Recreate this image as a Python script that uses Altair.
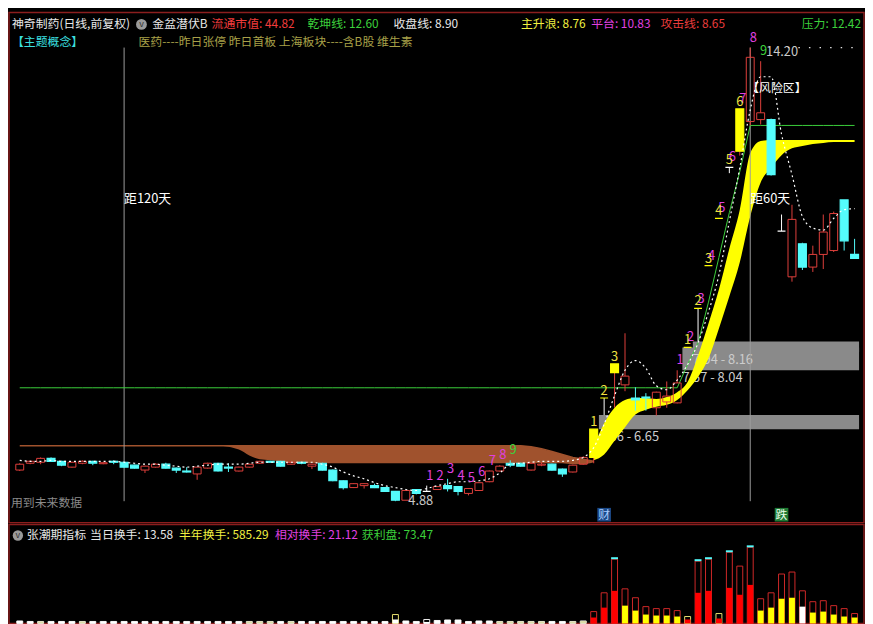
import altair as alt
import pandas as pd

FONT = "Noto Sans CJK SC"

# ---------------- candle data (index 0..80) ----------------
opens = [5.52, 5.66, 5.68, 5.76, 5.70, 5.58, 5.66, 5.70, 5.65, 5.70,
         5.68, 5.62, 5.52, 5.58, 5.64, 5.56, 5.50, 5.44, 5.56, 5.66,
         5.58, 5.50, 5.58, 5.66, 5.70, 5.70, 5.64, 5.68, 5.60, 5.66,
         5.52, 5.30, 5.16, 5.20, 5.20, 5.16, 5.08, 4.90, 5.12, 5.08,
         5.12, 5.20, 5.18, 5.04, 5.10, 5.28, 5.50, 5.66, 5.66, 5.52,
         5.62, 5.64, 5.54, 5.48, 5.64, 5.78, 7.00, 7.52, 7.27, 7.00,
         7.02, 6.80, 6.92, 6.90, 8.04, 8.84, 9.72, 10.69, 11.74, 12.07,
         12.68, 12.72, 12.72, 10.43, 9.49, 10.17, 9.69, 9.95, 10.03, 11.07,
         9.95]
highs = [5.66, 5.72, 5.78, 5.78, 5.71, 5.69, 5.72, 5.71, 5.68, 5.72,
         5.69, 5.63, 5.61, 5.66, 5.67, 5.57, 5.58, 5.59, 5.67, 5.67,
         5.66, 5.59, 5.65, 5.71, 5.71, 5.71, 5.69, 5.69, 5.65, 5.67,
         5.53, 5.31, 5.25, 5.25, 5.24, 5.17, 5.09, 5.11, 5.13, 5.20,
         5.19, 5.34, 5.19, 5.15, 5.27, 5.51, 5.62, 5.72, 5.67, 5.67,
         5.68, 5.65, 5.55, 5.63, 5.80, 6.36, 7.00, 7.70, 8.33, 7.22,
         7.10, 7.13, 7.34, 7.57, 8.04, 8.84, 9.72, 10.69, 11.74, 12.94,
         14.20, 13.92, 12.74, 10.77, 10.97, 10.19, 10.13, 10.77, 10.83, 11.07,
         10.27]
lows = [5.50, 5.64, 5.64, 5.69, 5.60, 5.57, 5.64, 5.62, 5.64, 5.64,
        5.57, 5.55, 5.46, 5.57, 5.55, 5.46, 5.47, 5.32, 5.55, 5.49,
        5.48, 5.49, 5.57, 5.65, 5.67, 5.59, 5.63, 5.64, 5.54, 5.51,
        5.29, 5.12, 5.15, 5.14, 5.15, 5.07, 4.88, 4.90, 5.02, 5.08,
        5.11, 5.08, 5.00, 5.00, 5.09, 5.27, 5.49, 5.58, 5.59, 5.51,
        5.60, 5.51, 5.38, 5.47, 5.63, 5.66, 6.65, 6.80, 7.14, 6.74,
        6.74, 6.64, 6.80, 6.89, 8.04, 8.16, 9.72, 10.69, 11.62, 11.98,
        12.60, 12.62, 11.57, 10.43, 9.39, 9.63, 9.59, 9.65, 10.00, 10.03,
        9.87]
closes = [5.64, 5.70, 5.76, 5.70, 5.62, 5.68, 5.70, 5.66, 5.67, 5.68,
          5.58, 5.56, 5.60, 5.64, 5.56, 5.52, 5.48, 5.58, 5.66, 5.50,
          5.56, 5.58, 5.64, 5.70, 5.68, 5.60, 5.68, 5.66, 5.64, 5.52,
          5.30, 5.16, 5.24, 5.24, 5.16, 5.08, 4.90, 5.10, 5.04, 5.08,
          5.18, 5.14, 5.08, 5.14, 5.26, 5.50, 5.60, 5.62, 5.60, 5.66,
          5.64, 5.52, 5.44, 5.62, 5.78, 6.36, 7.00, 7.70, 7.45, 6.96,
          7.00, 7.12, 7.04, 7.31, 8.04, 8.84, 9.72, 10.69, 11.74, 12.94,
          14.00, 12.86, 11.59, 10.43, 10.67, 9.69, 9.95, 10.41, 10.79, 10.23,
          9.87]
kinds = ("up up up dn dn up up dn up dn "
         "dn dn up up dn dn dn up up dn "
         "dn up up up dn dn up dn up dn "
         "dn dn up up dn dn dn up dn doji "
         "up dn dn up up up up dn dn up "
         "up dn dn up up lim limT lim up dn "
         "dn up up up lim limT lim lim doji lim "
         "up up dn doji up dn up up up dn "
         "dn").split()

# white dashed smooth line
ma_white = [5.72, 5.70, 5.70, 5.72, 5.70, 5.70, 5.70, 5.70, 5.70, 5.70,
            5.68, 5.66, 5.64, 5.64, 5.62, 5.60, 5.58, 5.60, 5.62, 5.64,
            5.64, 5.64, 5.66, 5.68, 5.68, 5.68, 5.68, 5.68, 5.68, 5.64,
            5.58, 5.48, 5.40, 5.34, 5.26, 5.20, 5.16, 5.12, 5.10, 5.14,
            5.20, 5.24, 5.28, 5.28, 5.30, 5.34, 5.46, 5.64, 5.66, 5.68,
            5.70, 5.70, 5.70, 5.72, 5.78, 5.98, 6.46, 7.05, 7.57, 7.77,
            7.61, 7.25, 7.17, 7.37, 7.69, 8.13, 8.77, 9.53, 10.63, 11.73,
            12.92, 13.60, 13.60, 12.42, 11.59, 10.73, 10.49, 10.45, 10.69, 10.87,
            10.89]
# green 乾坤线
qiankun = [7.21, 7.21, 7.21, 7.21, 7.21, 7.21, 7.21, 7.21, 7.21, 7.21,
           7.21, 7.21, 7.21, 7.21, 7.21, 7.21, 7.21, 7.21, 7.21, 7.21,
           7.21, 7.21, 7.21, 7.21, 7.21, 7.21, 7.21, 7.21, 7.21, 7.21,
           7.21, 7.21, 7.21, 7.21, 7.21, 7.21, 7.21, 7.21, 7.21, 7.21,
           7.21, 7.21, 7.21, 7.21, 7.21, 7.21, 7.21, 7.21, 7.21, 7.21,
           7.21, 7.21, 7.21, 7.21, 7.21, 7.21, 7.21, 7.21, 7.21, 7.21,
           7.21, 7.21, 7.21, 7.21, 7.69, 8.13, 8.97, 9.89, 10.81, 11.65,
           12.60, 12.60, 12.60, 12.60, 12.60, 12.60, 12.60, 12.60, 12.60, 12.60,
           12.60]

# yellow ribbon (主升浪), index 55..80
rib_idx = list(range(55, 81))
rib_hi = [6.00, 6.48, 6.80, 6.96, 7.00, 7.00, 6.98, 7.02, 7.12, 7.33,
          7.87, 8.53, 9.23, 10.07, 10.87, 12.03, 12.28, 12.30, 12.30, 12.30,
          12.30, 12.30, 12.30, 12.30, 12.30, 12.30]
rib_lo = [5.72, 5.84, 6.12, 6.40, 6.66, 6.76, 6.82, 6.86, 6.96, 7.16,
          7.43, 7.81, 8.43, 9.09, 9.79, 10.73, 11.43, 11.73, 11.99, 12.13,
          12.18, 12.22, 12.24, 12.26, 12.26, 12.26]

# brown area (潜伏区), index 0..55
brown_idx = list(range(0, 56))
brown_hi = [6.02, 6.02, 6.02, 6.02, 6.02, 6.02, 6.02, 6.02, 6.02, 6.02,
            6.02, 6.02, 6.02, 6.02, 6.02, 6.02, 6.02, 6.02, 6.02, 6.02,
            6.02, 6.02, 6.02, 6.02, 6.02, 6.02, 6.02, 6.02, 6.02, 6.02,
            6.02, 6.02, 6.02, 6.02, 6.02, 6.02, 6.02, 6.02, 6.02, 6.02,
            6.02, 6.02, 6.02, 6.02, 6.02, 6.02, 6.02, 6.02, 6.02, 6.00,
            5.96, 5.90, 5.84, 5.78, 5.74, 5.70]
brown_lo = [6.02, 6.02, 6.02, 6.02, 6.02, 6.02, 6.02, 6.02, 6.02, 6.02,
            6.02, 6.02, 6.02, 6.02, 6.02, 6.02, 6.02, 6.02, 6.02, 6.02,
            6.00, 5.94, 5.82, 5.74, 5.72, 5.70, 5.66, 5.66, 5.66, 5.66,
            5.66, 5.66, 5.66, 5.66, 5.66, 5.66, 5.66, 5.66, 5.66, 5.66,
            5.66, 5.66, 5.66, 5.66, 5.66, 5.66, 5.66, 5.66, 5.66, 5.66,
            5.66, 5.66, 5.66, 5.64, 5.64, 5.68]

# gap bands
band_lo = [6.36, 7.57, 7.94]
band_hi = [6.65, 8.04, 8.16]
band_from = [55.5, 63.5, 64.5]

# count labels
td_idx = [39, 40, 41, 42, 43, 44, 45, 46, 47, 63, 64, 65, 66, 67, 68, 69, 70, 71]
td_txt = ["1", "2", "3", "4", "5", "6", "7", "8", "9", "1", "2", "3", "4", "5", "6", "7", "8", "9"]
lb_idx = [55, 56, 57, 64, 65, 66, 67, 68, 69]
lb_txt = ["1", "2", "3", "1", "2", "3", "4", "5", "6"]

vline_idx = [10, 70]
vline_txt = ["距120天", "距60天"]
signal_idx = [56, 73]
signal_txt = ["财", "跌"]

# turnover panel
vol_total = [2.5, 2, 2, 2, 2, 2, 2, 2, 2, 2,
             2, 2, 2, 2, 2, 2, 2, 2, 2, 2,
             2, 2, 2, 2, 2, 2, 2, 2, 2, 2,
             2, 2, 2, 2, 2, 2, 9, 2.5, 2, 4,
             3, 3.5, 3.5, 2, 2.5, 2.5, 2, 2, 2, 2,
             2, 2, 2, 2, 2.5, 12, 31, 65, 35, 26,
             17, 15, 15, 13, 7, 63, 65, 10, 72, 58,
             77, 25, 31, 50, 52, 33, 22, 23, 18, 15,
             10]
vol_fill = [2.5, 2, 2, 2, 2, 2, 2, 2, 2, 2,
            2, 2, 2, 2, 2, 2, 2, 2, 2, 2,
            2, 2, 2, 2, 2, 2, 2, 2, 2, 2,
            2, 2, 2, 2, 2, 2, 4, 2.5, 2, 1.5,
            3, 3.5, 3.5, 2, 2.5, 2.5, 2, 2, 2, 2,
            2, 2, 2, 2, 2.5, 6, 16, 33, 18, 13,
            9, 8, 8, 7, 4, 31, 33, 5, 36, 29,
            39, 13, 16, 25, 26, 17, 11, 12, 9, 7,
            6]
vol_ocol = ("w w w w w w w w w w "
            "w w w w w w w w w w "
            "w w w w w w w w w w "
            "w w w w w w y w w w "
            "w w w w w w w w w w "
            "w w w w w r r r r r "
            "r r r r y r r y r r "
            "r r r r r r r r r r "
            "r").split()
vol_fcol = ("w w p w w w p w w w "
            "w w w w w w w w w w "
            "w w p p p w p w w w "
            "w w w w w w w w w w "
            "w w w w w w p p p p "
            "p w w p p r r r y y "
            "y y y y r r r r r r "
            "r y y y y w y y y y "
            "y").split()
vol_cap = [57, 65, 66, 68, 70]

hdr_names = ["流通市值", "乾坤线", "收盘线", "主升浪", "平台", "攻击线", "压力"]
hdr_vals = [44.82, 12.60, 8.90, 8.76, 10.83, 8.65, 12.42]
sub_names = ["当日换手", "半年换手", "相对换手", "获利盘"]
sub_vals = [13.58, 585.29, 21.12, 73.47]

# ---------------- styling ----------------
W, HM, HV = 865, 516, 100
UP = "#e0403c"
CY = "#54fcfc"
YE = "#ffff00"
WH = "#ffffff"
MAG = "#e040e0"
GRN = "#3cd03c"
WICK = {"up": UP, "dn": CY, "lim": UP, "limT": WH, "doji": WH}
BODY = {"dn": CY, "lim": YE, "limT": YE, "doji": WH}
OCOL = {"r": "#d02828", "y": "#e8e070", "w": "#f0f0f0"}
FCOL = {"r": "#ff0000", "y": "#ffff00", "w": "#ffffff", "p": "#dcdca8"}

xs = alt.Scale(domain=[-0.557, 80.43], nice=False, zero=False)
ys = alt.Scale(domain=[4.44, 14.919], nice=False, zero=False)
vs = alt.Scale(domain=[0, 100], nice=False, zero=False)
X = alt.X("i:Q", scale=xs, axis=None)

def Y(f):
    return alt.Y(f, scale=ys, axis=None)

cdf = pd.DataFrame({"i": list(range(81)), "o": opens, "h": highs, "l": lows, "c": closes,
                    "kind": kinds, "ma": ma_white, "qk": qiankun})
cdf["top"] = cdf[["o", "c"]].max(axis=1)
cdf["bot"] = cdf[["o", "c"]].min(axis=1)
cdf["wc"] = cdf["kind"].map(WICK)
cdf["bc"] = cdf["kind"].map(BODY).fillna(UP)
base = alt.Chart(cdf)

def txt(text, x, y, color, size=12, align="left", baseline="middle"):
    return alt.Chart(pd.DataFrame({"t": [text]})).mark_text(
        align=align, baseline=baseline, color=color, fontSize=size, font=FONT
    ).encode(text="t:N", x=alt.value(x), y=alt.value(y))

layers = []
# gap bands
bdf = pd.DataFrame({"x": band_from, "lo": band_lo, "hi": band_hi,
                    "lab": [f"{a:.2f} - {b:.2f}" for a, b in zip(band_lo, band_hi)]})
bdf["x2"] = 80.43
layers.append(alt.Chart(bdf).mark_rect(color="#8a8a8a").encode(
    x=alt.X("x:Q", scale=xs, axis=None), x2="x2:Q", y=Y("lo:Q"), y2="hi:Q"))
layers.append(alt.Chart(bdf).mark_text(align="left", baseline="top", dy=2, color="#cccccc",
                                       fontSize=13, font=FONT).encode(
    x=alt.X("x:Q", scale=xs, axis=None), y=Y("lo:Q"), text="lab:N"))
# brown area
brdf = pd.DataFrame({"i": brown_idx, "hi": brown_hi, "lo": brown_lo})
layers.append(alt.Chart(brdf).mark_area(color="#a0522d", interpolate="monotone").encode(
    x=X, y=Y("hi:Q"), y2="lo:Q"))
layers.append(alt.Chart(brdf).mark_line(color="#a0522d", strokeWidth=1.5).encode(x=X, y=Y("hi:Q")))
# yellow ribbon
rdf = pd.DataFrame({"i": rib_idx, "hi": rib_hi, "lo": rib_lo})
layers.append(alt.Chart(rdf).mark_area(color=YE, interpolate="monotone").encode(
    x=X, y=Y("hi:Q"), y2="lo:Q"))
# vertical marker lines (global low to global high)
vdf_l = pd.DataFrame({"i": vline_idx, "t": vline_txt})
vdf_l["lo"] = min(lows)
vdf_l["hi"] = max(highs)
layers.append(alt.Chart(vdf_l).mark_rule(color="#9c9c9c", strokeWidth=1).encode(
    x=X, y=Y("lo:Q"), y2="hi:Q"))
layers.append(alt.Chart(vdf_l).mark_text(align="left", baseline="middle", color=WH,
                                         fontSize=13, font=FONT).encode(
    x=X, y=alt.value(189), text="t:N"))
# green line
layers.append(base.mark_line(color=GRN, strokeWidth=1).encode(x=X, y=Y("qk:Q")))
# candles
layers.append(base.mark_rule(strokeWidth=1).encode(
    x=X, y=Y("h:Q"), y2="top:Q", color=alt.Color("wc:N", scale=None)))
layers.append(base.mark_rule(strokeWidth=1).encode(
    x=X, y=Y("bot:Q"), y2="l:Q", color=alt.Color("wc:N", scale=None)))
layers.append(base.transform_filter(alt.datum.kind == "up").mark_bar(
    filled=False, size=8, strokeWidth=1, color=UP).encode(x=X, y=Y("top:Q"), y2="bot:Q"))
layers.append(base.transform_filter(alt.datum.kind != "up").mark_bar(
    size=8, strokeWidth=1.2).encode(x=X, y=Y("top:Q"), y2="bot:Q",
                                    color=alt.Color("bc:N", scale=None),
                                    stroke=alt.Stroke("bc:N", scale=None)))
# white dashed line
layers.append(base.mark_line(color=WH, strokeDash=[2, 3], strokeWidth=1.2,
                             interpolate="monotone").encode(x=X, y=Y("ma:Q")))
# count labels
tdf = pd.DataFrame({"i": td_idx, "t": td_txt})
tdf["v"] = [highs[k] for k in td_idx]
tdf["col"] = [GRN if t == "9" else MAG for t in td_txt]
layers.append(alt.Chart(tdf).mark_text(baseline="bottom", dx=3, dy=-3, fontSize=13, font=FONT).encode(
    x=X, y=Y("v:Q"), text="t:N", color=alt.Color("col:N", scale=None)))
ldf = pd.DataFrame({"i": lb_idx, "t": lb_txt})
ldf["v"] = [highs[k] for k in lb_idx]
layers.append(alt.Chart(ldf).mark_text(baseline="bottom", dy=0, fontSize=13, font=FONT,
                                       color="#f0e040").encode(x=X, y=Y("v:Q"), text="t:N"))
# high / low labels
hi_i = highs.index(max(highs))
lo_i = lows.index(min(lows))
hl = pd.DataFrame({"i": [hi_i], "v": [max(highs)], "t": [f"{max(highs):.2f}"]})
ll = pd.DataFrame({"i": [lo_i], "v": [min(lows)], "t": [f"{min(lows):.2f}"]})
layers.append(alt.Chart(hl).mark_text(align="left", baseline="middle", dx=16, dy=5,
                                      color="#c8c8c8", fontSize=13, font=FONT).encode(
    x=X, y=Y("v:Q"), text="t:N"))
layers.append(alt.Chart(ll).mark_text(align="left", baseline="middle", dx=13, dy=0,
                                      color="#c8c8c8", fontSize=13, font=FONT).encode(
    x=X, y=Y("v:Q"), text="t:N"))
hl2 = hl.copy()
hl2["i"] = hi_i + 3.6
hl2["x2"] = 80.43
layers.append(alt.Chart(hl2).mark_rule(color="#dddddd", strokeDash=[1.5, 9.2], strokeWidth=1.2).encode(
    x=X, x2="x2:Q", y=Y("v:Q")))
# risk zone label
layers.append(alt.Chart(pd.DataFrame({"i": [hi_i], "t": ["【风险区】"]})).mark_text(
    align="left", baseline="middle", color=WH, fontSize=12, font=FONT, dx=-3).encode(
    x=X, y=alt.value(76), text="t:N"))
# signal markers
sdf = pd.DataFrame({"i": signal_idx, "t": signal_txt, "bg": ["#1c4a88", "#1e7a34"],
                    "fg": ["#a8ccff", "#eaffea"]})
layers.append(alt.Chart(sdf).mark_square(size=190, opacity=1).encode(
    x=X, y=alt.value(508), color=alt.Color("bg:N", scale=None)))
layers.append(alt.Chart(sdf).mark_text(fontSize=12, font=FONT, baseline="middle").encode(
    x=X, y=alt.value(508), text="t:N", color=alt.Color("fg:N", scale=None)))
# header texts
layers.append(txt("神奇制药(日线,前复权)", 3, 12, "#e8e8e8"))
layers.append(alt.Chart(pd.DataFrame({"a": [1]})).mark_point(
    shape="circle", filled=True, size=120, color="#9a9a9a", opacity=1).encode(
    x=alt.value(134), y=alt.value(12)))
layers.append(txt("v", 134, 12, "#303030", size=9, align="center"))
layers.append(txt("金盆潜伏B", 145, 12, "#e8e8e8"))
hdr_x = [205, 302, 389, 518, 589, 659, 862]
hdr_c = ["#f03c3c", GRN, "#e8e8e8", "#f0f040", MAG, "#e83c3c", GRN]
for nm, vv, hx, hc in zip(hdr_names, hdr_vals, hdr_x, hdr_c):
    layers.append(txt(f"{nm}: {vv:.2f}", hx, 12, hc, align="right" if hx > 850 else "left"))
layers.append(txt("【主题概念】", 3, 29.5, "#3ce0e0"))
layers.append(txt("医药----昨日张停 昨日首板 上海板块----含B股 维生素", 131, 29.5, "#a8a048"))
layers.append(txt("用到未来数据", 2, 496, "#8a8a8a", size=12))

main = alt.layer(*layers).properties(width=W, height=HM)

# ---------------- turnover panel ----------------
vdf = pd.DataFrame({"i": list(range(81)), "tot": vol_total, "fil": vol_fill,
                    "oc": [OCOL[k] for k in vol_ocol], "fc": [FCOL[k] for k in vol_fcol]})
vdf["z"] = 0
vdf["cap"] = [1 if k in vol_cap else 0 for k in range(81)]
vdf["ctop"] = vdf["tot"] + 2
vb = alt.Chart(vdf)
VY = alt.Y("tot:Q", scale=vs, axis=None)
vlayers = [
    vb.mark_bar(size=6, strokeWidth=1, filled=False).encode(
        x=X, y=VY, y2="z:Q", color=alt.Color("oc:N", scale=None)),
    vb.mark_bar(size=6).encode(
        x=X, y=alt.Y("fil:Q", scale=vs, axis=None), y2="z:Q", color=alt.Color("fc:N", scale=None)),
    vb.transform_filter(alt.datum.cap == 1).mark_bar(size=7, color=CY).encode(
        x=X, y=alt.Y("ctop:Q", scale=vs, axis=None), y2="tot:Q"),
]
vlayers.append(alt.Chart(pd.DataFrame({"a": [1]})).mark_point(
    shape="circle", filled=True, size=110, color="#9a9a9a", opacity=1).encode(
    x=alt.value(9), y=alt.value(11)))
vlayers.append(txt("v", 9, 11, "#303030", size=9, align="center"))
vlayers.append(txt("张潮期指标", 18, 11, "#e8e8e8"))
sub_x = [82, 172, 269, 357]
sub_c = ["#e8e8e8", "#f0f040", MAG, GRN]
for nm, vv, sx, sc in zip(sub_names, sub_vals, sub_x, sub_c):
    vlayers.append(txt(f"{nm}: {vv:.2f}", sx, 11, sc))
vol = alt.layer(*vlayers).properties(width=W, height=HV)

chart = alt.vconcat(main, vol, spacing=0).properties(padding=0).configure(
    background="#000000", font=FONT
).configure_view(stroke="#8b1e1e", strokeWidth=1.5)

chart.save("out.html", embed_options={"renderer": "svg", "actions": False})
